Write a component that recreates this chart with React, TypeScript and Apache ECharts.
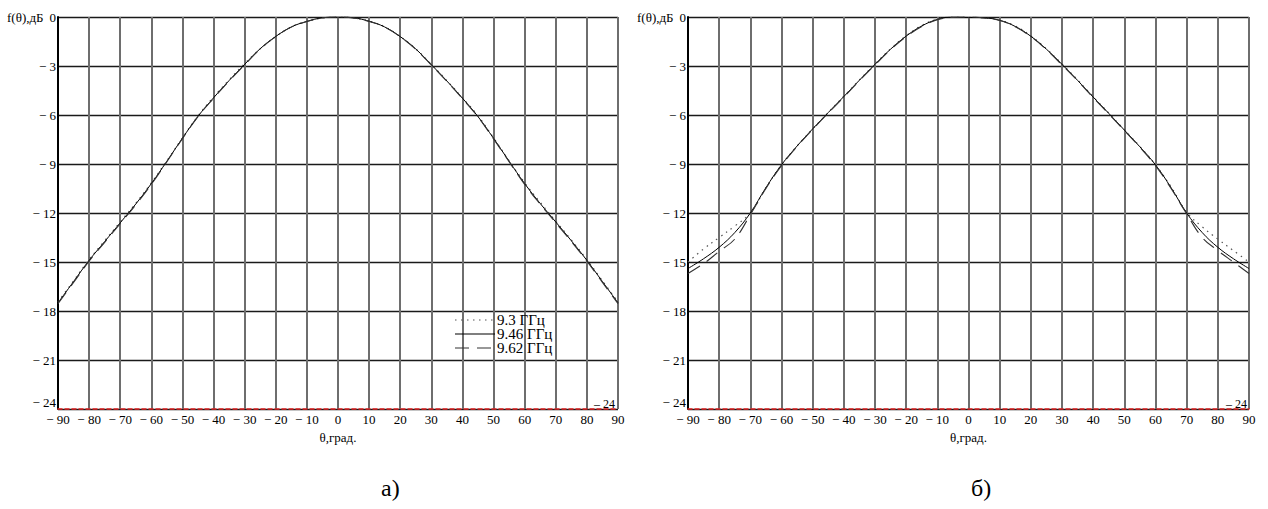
import React, { useEffect, useRef } from "react";
import * as echarts from "echarts";

const angles = [-90, -85, -80, -75, -70, -65, -60, -55, -50, -45, -40, -35, -30, -25, -20, -15, -10, -5, 0, 5, 10, 15, 20, 25, 30, 35, 40, 45, 50, 55, 60, 65, 70, 75, 80, 85, 90];

// Chart a)
const a93 = [-17.45, -16.15, -14.85, -13.7, -12.55, -11.4, -10.15, -8.8, -7.4, -6.05, -4.9, -3.85, -2.85, -1.95, -1.2, -0.6, -0.27, -0.06, 0, -0.05, -0.25, -0.6, -1.2, -1.95, -2.9, -3.9, -4.95, -6.05, -7.4, -8.8, -10.15, -11.35, -12.5, -13.65, -14.85, -16.15, -17.45];
const a946 = [-17.5, -16.2, -14.9, -13.75, -12.6, -11.45, -10.2, -8.83, -7.42, -6.08, -4.95, -3.89, -2.9, -1.94, -1.19, -0.61, -0.27, -0.05, 0, -0.05, -0.26, -0.61, -1.2, -1.96, -2.92, -3.92, -4.97, -6.1, -7.43, -8.83, -10.2, -11.42, -12.55, -13.7, -14.9, -16.2, -17.5];
const a962 = [-17.55, -16.25, -14.95, -13.8, -12.65, -11.5, -10.25, -8.86, -7.45, -6.1, -4.98, -3.92, -2.93, -1.96, -1.2, -0.62, -0.28, -0.05, 0, -0.06, -0.27, -0.62, -1.21, -1.98, -2.94, -3.95, -5.0, -6.12, -7.46, -8.86, -10.25, -11.46, -12.6, -13.75, -14.95, -16.25, -17.55];

// Chart б)
const b93 = [-15.0, -14.2, -13.5, -12.8, -12.0, -10.45, -9.05, -7.9, -6.85, -5.85, -4.85, -3.85, -2.88, -1.95, -1.15, -0.52, -0.13, 0, -0.02, -0.05, -0.2, -0.55, -1.15, -1.95, -2.88, -3.85, -4.88, -5.88, -6.9, -7.93, -9.05, -10.4, -11.95, -12.85, -13.6, -14.3, -15.0];
const b946 = [-15.4, -14.8, -14.1, -13.2, -12.0, -10.45, -9.05, -7.9, -6.85, -5.85, -4.87, -3.87, -2.9, -1.97, -1.17, -0.55, -0.15, 0, -0.02, -0.05, -0.2, -0.58, -1.18, -1.97, -2.9, -3.88, -4.9, -5.9, -6.92, -7.95, -9.05, -10.45, -12.0, -13.2, -14.1, -14.8, -15.4];
const b962 = [-15.7, -15.1, -14.35, -13.6, -12.1, -10.5, -9.1, -7.93, -6.88, -5.88, -4.9, -3.9, -2.93, -2.0, -1.2, -0.58, -0.17, -0.02, 0, -0.06, -0.22, -0.6, -1.2, -2.0, -2.93, -3.9, -4.93, -5.93, -6.95, -7.98, -9.1, -10.5, -12.05, -13.5, -14.3, -15.0, -15.7];

const seriesNames = ["9.3 ГГц", "9.46 ГГц", "9.62 ГГц"];
const xTicks = { min: -90, max: 90, step: 10 };
const yTicks = { min: -24, max: 0, step: 3 };

const FONT = "'Liberation Serif', 'Times New Roman', 'DejaVu Serif', serif";

function fmt(v: number): string {
  return v < 0 ? "\u2212 " + Math.abs(v) : String(v);
}

function zip(ys: number[]): number[][] {
  return angles.map((a, i) => [a, ys[i]]);
}

export default function App() {
  const ref = useRef<HTMLDivElement>(null);
  useEffect(() => {
    if (!ref.current) return;
    const chart = echarts.init(ref.current, null, { renderer: "svg" });
    const grids = [
      { left: 58, top: 17, width: 560, height: 392 },
      { left: 688, top: 17, width: 561, height: 392 },
    ];
    const xAxis = grids.map((_, i) => ({
      type: "value",
      gridIndex: i,
      min: xTicks.min,
      max: xTicks.max,
      interval: xTicks.step,
      name: "θ,град.",
      nameLocation: "middle",
      nameGap: 21,
      nameTextStyle: { fontFamily: FONT, fontSize: 13, color: "#000" },
      axisLine: { show: true, onZero: false, lineStyle: { color: "#e02020", type: [4, 3], width: 1.5 } },
      axisTick: { show: false },
      axisLabel: { formatter: fmt, fontFamily: FONT, fontSize: 13, color: "#000", margin: 4 },
      splitLine: { show: true, lineStyle: { color: "#6e6e6e", width: 2 } },
    }));
    const yAxis = grids.map((_, i) => ({
      type: "value",
      gridIndex: i,
      min: yTicks.min,
      max: yTicks.max,
      interval: yTicks.step,
      axisLine: { show: true, onZero: false, lineStyle: { color: "#000", width: 2 } },
      axisTick: { show: false },
      axisLabel: {
        formatter: fmt,
        fontFamily: FONT,
        fontSize: 13,
        color: "#000",
        margin: 2,
        verticalAlignMinLabel: "bottom",
      },
      splitLine: { show: true, lineStyle: { color: "#1a1a1a", width: 1.4 } },
    }));
    const styles = [
      { color: "#555", type: [1.5, 4.5] as any, width: 1.2 },
      { color: "#000", type: "solid", width: 1 },
      { color: "#333", type: [14, 8] as any, width: 1.1 },
    ];
    const dataA = [a93, a946, a962];
    const dataB = [b93, b946, b962];
    const series: any[] = [];
    [dataA, dataB].forEach((set, gi) => {
      set.forEach((ys, si) => {
        series.push({
          type: "line",
          name: seriesNames[si],
          xAxisIndex: gi,
          yAxisIndex: gi,
          data: zip(ys),
          showSymbol: false,
          symbol: "none",
          smooth: 0.4,
          lineStyle: styles[si],
          itemStyle: { color: styles[si].color },
          z: 3,
        });
      });
    });
    const legendY = [320, 334, 348];
    const legendGraphics: any[] = [];
    seriesNames.forEach((n, i) => {
      legendGraphics.push({
        type: "line",
        z: 10,
        shape: { x1: 455, y1: legendY[i], x2: 495, y2: legendY[i] },
        style: { stroke: styles[i].color, lineWidth: 1.2, lineDash: styles[i].type === "solid" ? null : styles[i].type },
      });
      legendGraphics.push({
        type: "text",
        z: 10,
        x: 497,
        y: legendY[i],
        style: { text: n, fontFamily: FONT, fontSize: 15, fill: "#000", verticalAlign: "middle", align: "left" },
      });
    });
    chart.setOption({
      animation: false,
      backgroundColor: "#fff",
      grid: grids,
      xAxis,
      yAxis,
      series,
      graphic: [
        ...legendGraphics,
        { type: "text", x: 7, y: 17, style: { text: "f(θ),дБ", fontFamily: FONT, fontSize: 13, fill: "#000", verticalAlign: "middle" } },
        { type: "text", x: 637, y: 17, style: { text: "f(θ),дБ", fontFamily: FONT, fontSize: 13, fill: "#000", verticalAlign: "middle" } },
        { type: "text", x: 594, y: 404, style: { text: "\u2013 24", fontFamily: FONT, fontSize: 12, fill: "#000", verticalAlign: "middle" } },
        { type: "text", x: 1226, y: 404, style: { text: "\u2013 24", fontFamily: FONT, fontSize: 12, fill: "#000", verticalAlign: "middle" } },
        { type: "text", x: 381, y: 488, style: { text: "а)", fontFamily: FONT, fontSize: 24, fill: "#000", verticalAlign: "middle" } },
        { type: "text", x: 971, y: 488, style: { text: "б)", fontFamily: FONT, fontSize: 24, fill: "#000", verticalAlign: "middle" } },
      ],
    });
    return () => chart.dispose();
  }, []);
  return (
    <div
      ref={ref}
      style={{ position: "absolute", left: 0, top: 0, width: 1268, height: 509, background: "#fff" }}
    />
  );
}
